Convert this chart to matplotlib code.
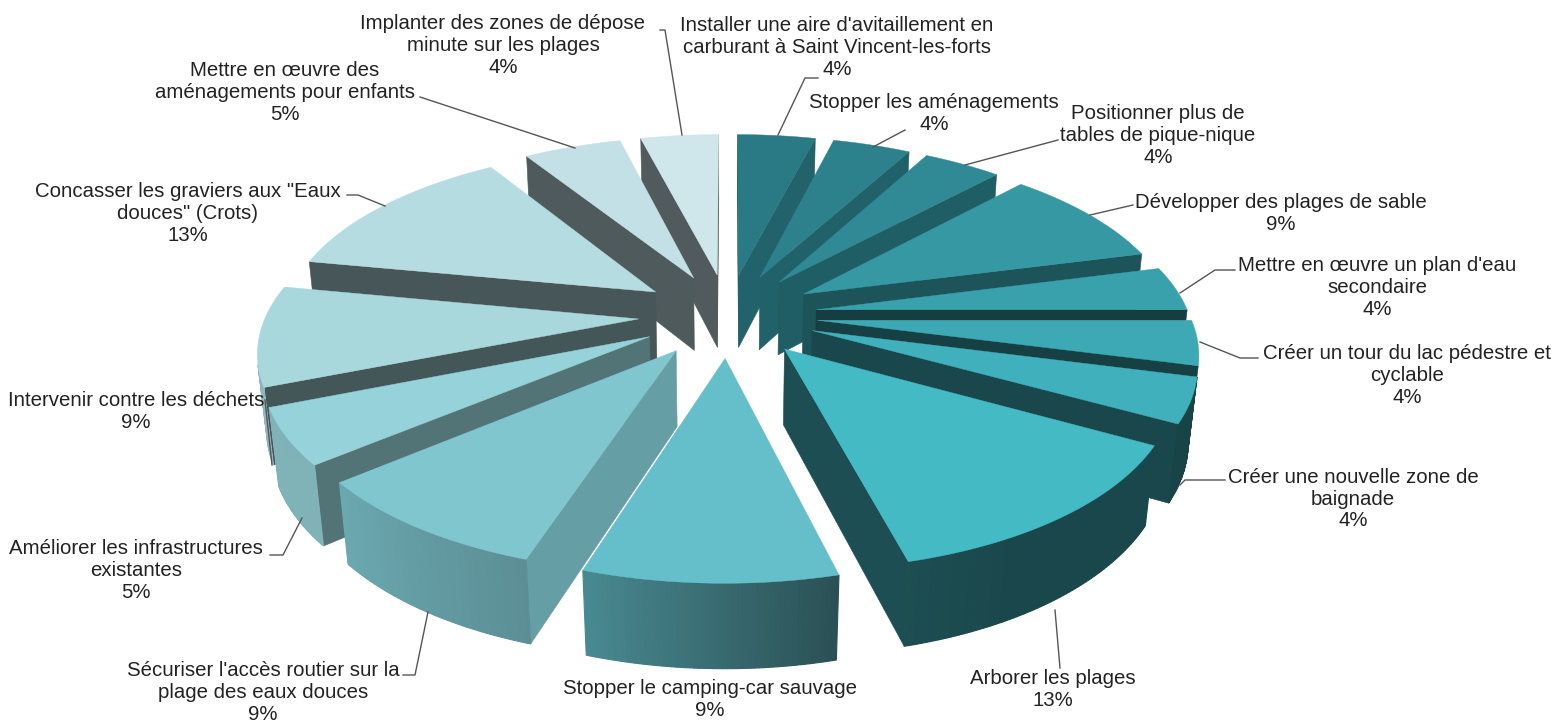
import numpy as np
import matplotlib
matplotlib.use('Agg')
import matplotlib.pyplot as plt
from matplotlib.colors import to_rgb

# --- DATA ---
labels = [
    "Installer une aire d'avitaillement en\ncarburant à Saint Vincent-les-forts",
    "Stopper les aménagements",
    "Positionner plus de\ntables de pique-nique",
    "Développer des plages de sable",
    "Mettre en œuvre un plan d'eau\nsecondaire",
    "Créer un tour du lac pédestre et\ncyclable",
    "Créer une nouvelle zone de\nbaignade",
    "Arborer les plages",
    "Stopper le camping-car sauvage",
    "Sécuriser l'accès routier sur la\nplage des eaux douces",
    "Améliorer les infrastructures\nexistantes",
    "Intervenir contre les déchets",
    "Concasser les graviers aux \"Eaux\ndouces\" (Crots)",
    "Mettre en œuvre des\naménagements pour enfants",
    "Implanter des zones de dépose\nminute sur les plages",
]
values = [4, 4, 4, 9, 4, 4, 4, 13, 9, 9, 5, 9, 13, 5, 4]

# label centres and leader lines, in pixels
label_pos = [(837, 47), (934, 113), (1158, 135), (1281, 213), (1377, 287), (1407, 375),
             (1353, 499), (1053, 689), (710, 699), (263, 692), (136, 571), (136, 411),
             (188, 213), (285, 92), (503, 45)]
leaders = [
    [(818, 78), (805, 78), (778, 135)],
    [(905, 130), (873, 147)],
    [(1058, 140), (965, 165)],
    [(1133, 205), (1090, 215)],
    [(1235, 270), (1215, 270), (1180, 293)],
    [(1258, 358), (1240, 358), (1200, 342)],
    [(1225, 480), (1185, 480), (1180, 485)],
    [(1060, 668), (1055, 610)],
    [],
    [(403, 675), (415, 675), (428, 612)],
    [(270, 555), (283, 555), (302, 518)],
    [(265, 400), (272, 465)],
    [(347, 195), (358, 195), (385, 206)],
    [(420, 97), (575, 148)],
    [(660, 30), (665, 30), (682, 135)],
]

# top face colours and side wall darkening per slice
top_colours = ['#2a7a85', '#2c818c', '#2f8a95', '#3598a3', '#39a1ac', '#3da9b4', '#40b1bc', '#44bac5',
               '#65bfca', '#7fc6cf', '#96d2d9', '#a8d7dc', '#b5dce1', '#c2e0e5', '#cfe6eb']
radial_shade = [.8, .75, .68, .55, .38, .38, .4, .42, .6, .8, .55, .4, .39, .4, .39]

# --- PIE GEOMETRY ---
CX, CY = 728, 315
XS = 1.008
F, D = 2070.0, 5.6
TILT = np.radians(28.1)
EXPLODE = 0.24
H = 0.232
cam = np.array([0, -D * np.cos(TILT), D * np.sin(TILT)])


def project(x, y, z):
    dist = D + y * np.cos(TILT) - z * np.sin(TILT)
    up = y * np.sin(TILT) + z * np.cos(TILT)
    return CX + XS * F * x / dist, CY - F * up / dist


def wall_shade(theta):
    return np.interp(theta, [90, 150, 166, 198, 230, 270], [.38, .38, .42, .72, .85, .85])


def facing(nx, ny, px, py):
    return nx * (cam[0] - px) + ny * (cam[1] - py) > 0


fig = plt.figure(figsize=(15.59, 7.25), dpi=100)
ax = fig.add_axes([0, 0, 1, 1])
ax.set_xlim(0, 1559)
ax.set_ylim(725, 0)
ax.axis('off')

edges = np.cumsum([0] + values) / sum(values) * 360
mids = (edges[:-1] + edges[1:]) / 2
order = np.argsort(-np.cos(np.radians(mids)))

# painter order: slices go from back to front
for i in order:
    t0, t1 = edges[i], edges[i + 1]
    mid = np.radians(mids[i])
    ox, oy = EXPLODE * np.sin(mid), EXPLODE * np.cos(mid)
    base = np.array(to_rgb(top_colours[i]))
    th = np.radians(np.linspace(t0, t1, int(values[i] * 6) + 2))
    xs = ox + np.sin(th)
    ys = oy + np.cos(th)

    # radial walls
    for t, sign in ((t0, -1), (t1, 1)):
        a = np.radians(t)
        nx, ny = sign * np.cos(a), -sign * np.sin(a)
        ex, ey = ox + np.sin(a), oy + np.cos(a)
        if facing(nx, ny, (ox + ex) / 2, (oy + ey) / 2):
            quad = [project(ox, oy, 0), project(ex, ey, 0), project(ex, ey, -H), project(ox, oy, -H)]
            px, py = zip(*quad)
            ax.fill(px, py, color=base * radial_shade[i], lw=0.4)

    # outer wall as thin strips for the gradient
    for k in range(len(th) - 1):
        m = (th[k] + th[k + 1]) / 2
        if not facing(np.sin(m), np.cos(m), xs[k], ys[k]):
            continue
        quad = [project(xs[k], ys[k], 0), project(xs[k + 1], ys[k + 1], 0),
                project(xs[k + 1], ys[k + 1], -H), project(xs[k], ys[k], -H)]
        px, py = zip(*quad)
        ax.fill(px, py, color=base * wall_shade(np.degrees(m)), lw=0.8)

    # top face
    px, py = project(np.r_[ox, xs], np.r_[oy, ys], np.zeros(len(xs) + 1))
    ax.fill(px, py, color=base, lw=0.3)

for i, name in enumerate(labels):
    x, y = label_pos[i]
    ax.text(x, y, f"{name}\n{values[i]}%", ha='center', va='center', fontsize=14.7,
            family='Liberation Sans', color='#222222', linespacing=1.2, zorder=5)
    if leaders[i]:
        lx, ly = zip(*leaders[i])
        ax.plot(lx, ly, color='#555555', lw=1.0, zorder=4)

fig.savefig('out.png', dpi=100, facecolor='white')
